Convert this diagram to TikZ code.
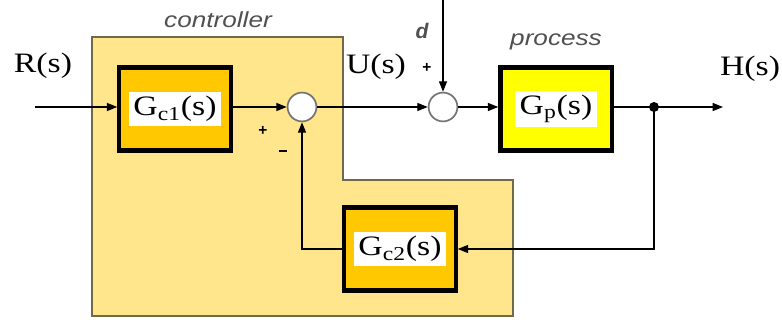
\documentclass[tikz,border=0pt]{standalone}
\usepackage{fontspec}
\setmainfont{Liberation Serif}
\newfontfamily\tagfont{Liberation Sans}
\usetikzlibrary{arrows.meta}
\definecolor{ctrlfill}{RGB}{255,229,140}
\definecolor{ctrledge}{RGB}{112,106,72}
\definecolor{blockorange}{RGB}{255,200,0}
\definecolor{blockyellow}{RGB}{255,255,0}
\definecolor{taggray}{RGB}{80,80,80}
\newcommand{\widetxt}[1]{\scalebox{1.2}[1]{#1}}

\begin{document}
\begin{tikzpicture}[x=0.025cm,y=-0.025cm,line width=0.9pt,>={Triangle[length=2.6mm,width=2mm]},
  block/.style={draw=black,line width=3pt,minimum width=2.78cm,minimum height=2.07cm,inner sep=0pt,
    font=\fontsize{20}{24}\selectfont},
  sumnode/.style={circle,draw=black!55,line width=1.2pt,fill=white,minimum size=0.72cm,inner sep=0pt},
  sig/.style={font=\fontsize{20}{24}\selectfont},
  tag/.style={font=\tagfont\itshape\fontsize{15.5}{18}\selectfont,text=taggray},
  sgn/.style={font=\tagfont\bfseries\fontsize{11}{13}\selectfont}]
\useasboundingbox (0,0) rectangle (782,320);
% controller area
\filldraw[fill=ctrlfill,draw=ctrledge,line width=1.1pt] (92,37) -- (343,37) -- (343,180) -- (513,180) -- (513,316) -- (92,316) -- cycle;
\node[tag] (ctrltag) at (218,20) {\widetxt{controller}};
\node[tag] (proctag) at (556,42) {\widetxt{process}};
% blocks
\node[block,fill=blockorange] (gc1) at (175,109) {\colorbox{white}{\widetxt{G\textsubscript{c1}(s)}}};
\node[block,fill=blockyellow] (gp) at (556,109) {\colorbox{white}{\widetxt{G\textsubscript{p}(s)}}};
\node[block,fill=blockorange] (gc2) at (400,249) {\colorbox{white}{\widetxt{G\textsubscript{c2}(s)}}};
\node[sumnode] (sum1) at (302,107) {};
\node[sumnode] (sum2) at (443,107) {};
\fill (654,107) circle (5) coordinate (branch);
% signals
\node[sig] (rlab) at (43,66) {\widetxt{R(s)}};
\node[sig] (ulab) at (376,67) {\widetxt{U(s)}};
\node[sig] (hlab) at (750,69) {\widetxt{H(s)}};
\node[tag,font=\tagfont\itshape\bfseries\fontsize{15}{18}\selectfont] (dlab) at (422,31) {d};
\node[sgn] (p1) at (263,131) {+};
\node[sgn] (m1) at (283,151) {\rule{6pt}{1.6pt}};
\node[sgn] (p2) at (427,68) {+};
\coordinate (rstart) at (35,107);
\coordinate (hend) at (723,107);
\coordinate (dtop) at (443,0);
% connectors
\draw[->] (rstart) -- (rstart -| gc1.west);
\draw[->] (gc1.east |- sum1) -- (sum1.west);
\draw[->] (sum1.east) -- (sum2.west);
\draw[->] (dtop) -- (sum2.north);
\draw[->] (sum2.east) -- (sum2 -| gp.west);
\draw (gp.east |- branch) -- (branch);
\draw[->] (branch) -- (hend);
\draw[->] (branch) |- (gc2.east);
\draw[->] (gc2.west) -| (sum1.south);
\end{tikzpicture}
\end{document}
